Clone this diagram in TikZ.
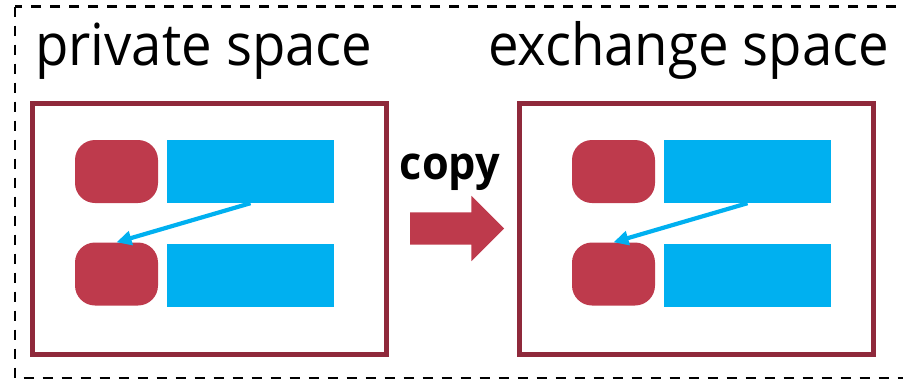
\documentclass[tikz,border=0pt]{standalone}
\usepackage{fontspec}
\setmainfont{Open Sans}
\newfontfamily\titlefont[FakeStretch=0.94]{Open Sans}
\usetikzlibrary{positioning,arrows.meta,shapes.arrows}

\definecolor{framered}{RGB}{143,41,59}
\definecolor{keyred}{RGB}{190,58,76}
\definecolor{valblue}{RGB}{0,176,240}

\begin{document}
\begin{tikzpicture}[x=1pt, y=-1pt,
    space/.style={draw=framered, line width=5pt, minimum width=354pt,
                  minimum height=251pt, inner sep=0pt},
    keybox/.style={fill=keyred, rounded corners=20pt, minimum width=83pt,
                   minimum height=63pt, inner sep=0pt},
    valbox/.style={fill=valblue, minimum width=167pt, minimum height=63pt,
                   inner sep=0pt},
    title/.style={font=\titlefont\fontsize{58}{58}\selectfont, inner sep=0pt,
                  anchor=base west},
    ptr/.style={draw=valblue, line width=4.2pt,
                -{Triangle[length=15pt,width=14pt]}}
  ]
    \useasboundingbox (0,0) rectangle (903,381);
    \draw[dash pattern=on 10pt off 9pt, line width=2.7pt] (15,6.5) rectangle (920,378);

    % private space
    \node[title] (ptitle) at (35,65) {private space};
    \node[space] (priv) at (209.5,229) {};
    \node[keybox] (pk1) at (116.5,171.5) {};
    \node[keybox] (pk2) at (116.5,274) {};
    \node[valbox] (pv1) at (250.5,171.5) {};
    \node[valbox] (pv2) at (250.5,275) {};
    \draw[ptr] (pv1.south) -- (pk2.north);

    % copy step
    \node[single arrow, fill=keyred, inner xsep=0pt, inner ysep=16pt,
          single arrow head extend=16.5pt, minimum height=94pt] (copyarr) at (449,228.5) {};
    \node[font=\titlefont\bfseries\fontsize{46}{46}\selectfont, inner sep=0pt,
          anchor=base] (copy) at (450,179) {copy};

    % exchange space
    \node[title] (etitle) at (488,65) {exchange space};
    \node[space] (exch) at (696,229) {};
    \node[keybox] (ek1) at (613.5,171.5) {};
    \node[keybox] (ek2) at (613.5,274) {};
    \node[valbox] (ev1) at (747.5,171.5) {};
    \node[valbox] (ev2) at (747.5,275) {};
    \draw[ptr] (ev1.south) -- (ek2.north);
\end{tikzpicture}
\end{document}
